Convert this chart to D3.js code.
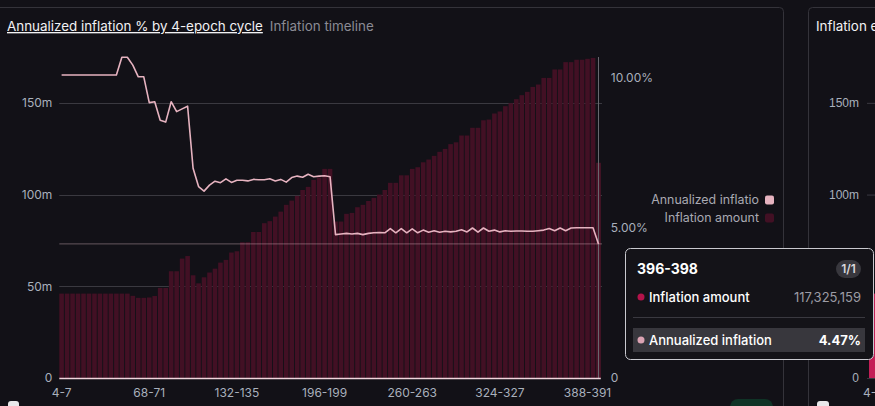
<!DOCTYPE html>
<html>
<head>
<meta charset="utf-8">
<script src="https://cdn.jsdelivr.net/npm/d3@7"></script>
<style>
  html, body { margin: 0; padding: 0; background: #121117; }
  svg { display: block; font-family: Inter, "Noto Sans", sans-serif; }
</style>
</head>
<body>
<svg id="chart" width="875" height="406"></svg>
<script>
const cycles = ['4-7','8-11','12-15','16-19','20-23','24-27','28-31','32-35','36-39','40-43',
  '44-47','48-51','52-55','56-59','60-63','64-67','68-71','72-75','76-79','80-83',
  '84-87','88-91','92-95','96-99','100-103','104-107','108-111','112-115','116-119','120-123',
  '124-127','128-131','132-135','136-139','140-143','144-147','148-151','152-155','156-159','160-163',
  '164-167','168-171','172-175','176-179','180-183','184-187','188-191','192-195','196-199','200-203',
  '204-207','208-211','212-215','216-219','220-223','224-227','228-231','232-235','236-239','240-243',
  '244-247','248-251','252-255','256-259','260-263','264-267','268-271','272-275','276-279','280-283',
  '284-287','288-291','292-295','296-299','300-303','304-307','308-311','312-315','316-319','320-323',
  '324-327','328-331','332-335','336-339','340-343','344-347','348-351','352-355','356-359','360-363',
  '364-367','368-371','372-375','376-379','380-383','384-387','388-391','392-395','396-398']

// inflation amount, millions
const amount = [46.0,46.0,46.0,46.0,46.0,46.0,46.0,46.0,46.0,46.0,
  46.0,46.0,46.0,44.8,43.7,43.7,43.9,44.7,49.1,49.1,
  58.2,58.2,65.1,66.5,56.0,51.6,54.9,57.5,59.6,62.9,
  64.4,68.4,69.1,74.0,74.0,79.6,79.6,84.4,85.5,88.0,
  90.7,94.4,96.7,99.3,102.5,104.2,108.0,109.3,114.0,114.0,
  85.3,85.3,89.5,90.0,93.1,94.4,96.5,98.2,100.0,102.5,
  106.4,106.4,110.5,110.5,114.0,114.9,117.6,119.1,121.1,123.3,
  124.9,127.5,128.5,132.2,132.2,136.4,136.4,140.5,140.9,144.2,
  145.3,148.2,149.8,152.0,154.2,156.0,158.7,160.0,163.6,163.6,
  168.2,168.2,172.2,172.2,173.5,173.5,174.0,174.5,117.325159]

// annualized inflation, percent
const annualized = [10.10,10.10,10.10,10.10,10.10,10.10,10.10,10.10,10.10,10.10,
  10.10,10.69,10.69,10.43,10.04,10.04,9.18,9.21,8.59,8.53,
  9.21,8.88,8.97,9.06,6.99,6.38,6.23,6.43,6.56,6.51,
  6.64,6.52,6.59,6.59,6.57,6.62,6.61,6.61,6.64,6.57,
  6.62,6.53,6.68,6.73,6.69,6.79,6.71,6.73,6.74,6.71,
  4.78,4.80,4.82,4.80,4.82,4.78,4.82,4.84,4.85,4.84,
  4.98,4.84,4.98,4.84,4.97,4.84,4.93,4.86,4.91,4.86,
  4.89,4.87,4.89,4.94,4.87,5.00,4.86,5.00,4.89,4.93,
  4.87,4.91,4.89,4.90,4.90,4.89,4.89,4.91,4.93,4.98,
  4.91,5.00,4.91,5.00,5.01,5.01,5.01,5.01,4.47]

const xTickLabels = ['4-7','68-71','132-135','196-199','260-263','324-327','388-391']
const leftTicks = [0, 50, 100, 150]
const rightTicks = [0, 5, 10]
const hovered = '396-398'

const svg = d3.select('#chart')
const W = 875, H = 406

svg.append('rect').attr('width', W).attr('height', H).attr('fill', '#121117')

// panels
svg.append('rect').attr('x', -4).attr('y', 7.5).attr('width', 787.5).attr('height', 420)
  .attr('rx', 4).attr('fill', 'none').attr('stroke', '#34333a')
svg.append('rect').attr('x', 808.5).attr('y', 7.5).attr('width', 100).attr('height', 420)
  .attr('rx', 4).attr('fill', 'none').attr('stroke', '#34333a')

// titles
const title = svg.append('text').attr('x', 7).attr('y', 31)
  .style('font-size', '13.4px')
title.append('tspan').attr('fill', '#f2f2f4').style('text-decoration', 'underline')
  .text('Annualized inflation % by 4-epoch cycle')
title.append('tspan').attr('dx', 7).attr('fill', '#8b8b94').text('Inflation timeline')

const plot = { left: 59.3, right: 600.8, top: 57, bottom: 378 }

const x = d3.scaleBand().domain(cycles).range([plot.left, plot.right]).paddingInner(0.16)
const yL = d3.scaleLinear().domain([0, 175]).range([plot.bottom, plot.top])
const yR = d3.scaleLinear().domain([0, 10.7]).range([plot.bottom, plot.top])

// grid
svg.append('g').selectAll('line').data(leftTicks.filter(d => d > 0)).join('line')
  .attr('x1', plot.left).attr('x2', 602)
  .attr('y1', d => Math.round(yL(d)) + 0.5).attr('y2', d => Math.round(yL(d)) + 0.5)
  .attr('stroke', '#3a3940')

// bars
svg.append('g').selectAll('rect').data(cycles).join('rect')
  .attr('x', d => x(d))
  .attr('width', x.bandwidth())
  .attr('y', (d, i) => yL(amount[i]))
  .attr('height', (d, i) => plot.bottom - yL(amount[i]))
  .attr('fill', d => d === hovered ? '#4c1429' : '#421024')

// crosshair
const hx = x(hovered) + x.bandwidth() / 2
const hi = cycles.indexOf(hovered)
svg.append('line').attr('x1', hx).attr('x2', hx).attr('y1', plot.top).attr('y2', plot.bottom)
  .attr('stroke', '#6a6970').attr('stroke-width', 1)
svg.append('line').attr('x1', plot.left).attr('x2', 602)
  .attr('y1', yR(annualized[hi])).attr('y2', yR(annualized[hi]))
  .attr('stroke', 'rgba(255,220,230,0.35)').attr('stroke-width', 1)

// line
const line = d3.line()
  .x((d, i) => x(cycles[i]) + x.bandwidth() / 2)
  .y(d => yR(d))
svg.append('path').datum(annualized)
  .attr('d', line).attr('fill', 'none')
  .attr('stroke', '#e6b3c0').attr('stroke-width', 1.6).attr('stroke-linejoin', 'round')

// baseline
svg.append('line').attr('x1', plot.left).attr('x2', plot.right)
  .attr('y1', plot.bottom + 0.5).attr('y2', plot.bottom + 0.5)
  .attr('stroke', '#f0d4dc').attr('stroke-width', 1.5)

// axes
const axisLeft = d3.axisLeft(yL).tickValues(leftTicks).tickSize(0).tickPadding(7)
  .tickFormat(d => d === 0 ? '0' : d + 'm')
const gl = svg.append('g').attr('transform', `translate(${plot.left},0)`).call(axisLeft)

const axisRight = d3.axisRight(yR).tickValues(rightTicks).tickSize(0).tickPadding(10)
  .tickFormat(d => d === 0 ? '0' : d3.format('.2f')(d) + '%')
const gr = svg.append('g').attr('transform', `translate(${plot.right},0)`).call(axisRight)

const axisBottom = d3.axisBottom(x).tickValues(xTickLabels).tickSize(0).tickPadding(10)
const gb = svg.append('g').attr('transform', `translate(0,${plot.bottom})`).call(axisBottom)

;[gl, gr, gb].forEach(g => {
  g.select('.domain').remove()
  g.selectAll('text').attr('fill', '#a9b0bc').style('font-size', '12px')
    .style('font-family', 'Inter, "Noto Sans", sans-serif')
})

// legend
const legend = [
  { name: 'Annualized inflatio', color: '#e6b3c0' },
  { name: 'Inflation amount', color: '#421024' }
]
const lg = svg.append('g').selectAll('g').data(legend).join('g')
  .attr('transform', (d, i) => `translate(0,${200 + i * 18})`)
lg.append('text').attr('x', 759).attr('dy', '0.35em').attr('text-anchor', 'end')
  .attr('fill', '#a9a9b2').style('font-size', '12.4px').text(d => d.name)
lg.append('rect').attr('x', 765).attr('y', -4.5).attr('width', 9).attr('height', 9).attr('rx', 2)
  .attr('fill', d => d.color)

// second panel (cut off at right edge)
svg.append('text').attr('x', 816).attr('y', 31).attr('fill', '#f2f2f4')
  .style('font-size', '13.4px').text('Inflation e')
const yL2 = d3.scaleLinear().domain([0, 175]).range([plot.bottom, plot.top])
const g2 = svg.append('g').attr('transform', 'translate(867,0)')
  .call(d3.axisLeft(yL2).tickValues(leftTicks.filter(d => d !== 50)).tickSize(-10).tickPadding(8)
    .tickFormat(d => d === 0 ? '0' : d + 'm'))
g2.select('.domain').remove()
g2.selectAll('line').attr('stroke', '#3a3940')
g2.selectAll('text').attr('fill', '#a9b0bc').style('font-size', '12px')
svg.append('rect').attr('x', 869).attr('y', yL2(amount[0])).attr('width', 8)
  .attr('height', plot.bottom - yL2(amount[0])).attr('fill', '#c41e56')
svg.append('text').attr('x', 863).attr('y', 397).attr('fill', '#a9b0bc')
  .style('font-size', '12px').text('4-7')

// bottom cut-off controls
svg.append('rect').attr('x', 8).attr('y', 401).attr('width', 11).attr('height', 11).attr('rx', 3).attr('fill', '#e8e8ea')
svg.append('rect').attr('x', 730).attr('y', 399).attr('width', 43).attr('height', 16).attr('rx', 8).attr('fill', '#0f3326')
svg.append('rect').attr('x', 817).attr('y', 401).attr('width', 12).attr('height', 11).attr('rx', 3).attr('fill', '#e8e8ea')

// tooltip
const tt = svg.append('g').attr('transform', 'translate(625,248)')
tt.append('rect').attr('x', 0.5).attr('y', 0.5).attr('width', 248).attr('height', 111).attr('rx', 5)
  .attr('fill', '#141318').attr('stroke', '#c9c9cf')
tt.append('text').attr('x', 12).attr('y', 21).attr('dy', '0.35em').attr('fill', '#ffffff')
  .style('font-size', '14px').style('font-weight', 700).text(hovered)
tt.append('rect').attr('x', 211).attr('y', 12).attr('width', 25).attr('height', 18).attr('rx', 9).attr('fill', '#38373d')
tt.append('text').attr('x', 223.5).attr('y', 21).attr('dy', '0.35em').attr('text-anchor', 'middle')
  .attr('fill', '#d8d8dc').style('font-size', '12px').style('font-weight', 600).text('1/1')

tt.append('circle').attr('cx', 16).attr('cy', 49).attr('r', 3.5).attr('fill', '#b3134a')
tt.append('text').attr('x', 24).attr('y', 49).attr('dy', '0.35em').attr('fill', '#ffffff')
  .style('font-size', '13px').style('font-weight', 500).text('Inflation amount')
tt.append('text').attr('x', 236).attr('y', 49).attr('dy', '0.35em').attr('text-anchor', 'end')
  .attr('fill', '#9c9ca4').style('font-size', '13px').text(d3.format(',')(Math.round(amount[hi] * 1e6)))

tt.append('line').attr('x1', 8).attr('x2', 240).attr('y1', 69.5).attr('y2', 69.5).attr('stroke', '#3a3940')
tt.append('rect').attr('x', 8).attr('y', 80).attr('width', 232).attr('height', 24).attr('fill', '#38373d')
tt.append('circle').attr('cx', 16).attr('cy', 92).attr('r', 3.5).attr('fill', '#dba3b3')
tt.append('text').attr('x', 24).attr('y', 92).attr('dy', '0.35em').attr('fill', '#ffffff')
  .style('font-size', '13px').style('font-weight', 500).text('Annualized inflation')
tt.append('text').attr('x', 236).attr('y', 92).attr('dy', '0.35em').attr('text-anchor', 'end')
  .attr('fill', '#ffffff').style('font-size', '13px').style('font-weight', 700)
  .text(d3.format('.2f')(annualized[hi]) + '%')
</script>
</body>
</html>
